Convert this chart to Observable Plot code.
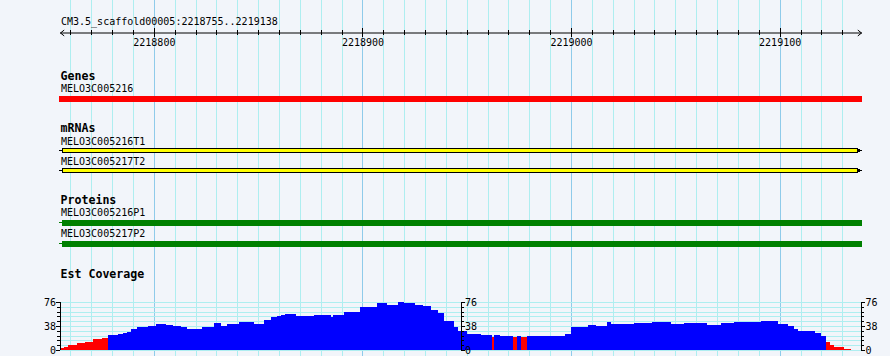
<!DOCTYPE html>
<html><head><meta charset="utf-8">
<script src="https://cdn.jsdelivr.net/npm/d3@7"></script>
<script src="https://cdn.jsdelivr.net/npm/@observablehq/plot@0.6"></script>
<style>
html,body{margin:0;padding:0;background:#f2f5fa;}
#chart{position:relative;width:890px;height:356px;background:#f2f5fa;overflow:hidden;}
</style></head><body><div id="chart"></div>
<script>
// ---- data ----
const refName = "CM3.5_scaffold00005";
const viewStart = 2218755;
const viewEnd = 2219138;
const minorStep = 10;
const majorStep = 100;

const trackTitles = ["Genes", "mRNAs", "Proteins", "Est Coverage"];

const geneIds = ["MELO3C005216"];
const geneStarts = [2218754];
const geneEnds = [2219140];

const mrnaIds = ["MELO3C005216T1", "MELO3C005217T2"];
const mrnaStarts = [2218754, 2218754];
const mrnaEnds = [2219140, 2219140];
const mrnaBoxStarts = [2218756, 2218756];
const mrnaBoxEnds = [2219137.5, 2219137.5];

const proteinIds = ["MELO3C005216P1", "MELO3C005217P2"];
const proteinStarts = [2218754, 2218754];
const proteinEnds = [2219140, 2219140];
const proteinBoxStarts = [2218756, 2218756];
const proteinBoxEnds = [2219139.5, 2219139.5];

// EST coverage: runs (start position, depth); last run ends at covEnd
const covStarts = [2218755,2218757,2218759,2218763,2218767,2218771,2218775,2218778,2218783,2218785,
  2218787,2218789,2218792,2218797,2218801,2218806,2218809,2218813,2218816,2218818,
  2218823,2218829,2218832,2218835,2218841,2218848,2218853,2218856,2218859,2218861,
  2218863,2218868,2218877,2218885,2218886,2218891,2218899,2218907,2218912,2218917,
  2218920,2218925,2218929,2218933,2218936,2218939,2218944,2218946,2218950,2218957,
  2218962,2218963,2218966,2218972,2218974,2218976,2218979,2218997,2219000,2219008,
  2219012,2219017,2219019,2219030,2219037,2219039,2219048,2219054,2219065,2219072,
  2219078,2219091,2219099,2219104,2219107,2219109,2219117,2219120,2219122,2219124,
  2219126,2219131];
const covValues = [3,5,8,10.5,13,17,19,23.7,25,27,
  29,33,37,38,41,39,38,36,34,33,
  37,42,38.5,41.7,44,40.6,47.5,51.7,54,55,
  56.5,54,55.4,51.7,55,59.6,68.6,74,72,76,
  75,72,69.7,64,58,46,37,30.6,26,23.7,
  21,23.7,22,21,22,21,22,24.8,36,39.6,
  38,44,41,42,43,44,40.6,42,40,43,
  45,46,41.7,38,34,30,27,22,12.7,7.4,
  5.3,2];
const covEnd = 2219134;
const covMax = 76;
const covLabelTicks = [0, 38, 76];
const covTickDivisions = 10;
const lowThreshold = 21.5;

// ---- colours ----
const minorGridColor = "#aeeef0";
const majorGridColor = "#8fcbea";
const geneColor = "#ff0000";
const mrnaColor = "#ffff00";
const proteinColor = "#008000";
const covHigh = "#0000ff";
const covLow = "#ff0000";

// ---- derived tables ----
const genes = geneIds.map((id, i) => ({id, start: geneStarts[i], end: geneEnds[i]}));
const mrnas = mrnaIds.map((id, i) => ({id, start: mrnaStarts[i], end: mrnaEnds[i], boxStart: mrnaBoxStarts[i], boxEnd: mrnaBoxEnds[i]}));
const proteins = proteinIds.map((id, i) => ({id, start: proteinStarts[i], end: proteinEnds[i], boxStart: proteinBoxStarts[i], boxEnd: proteinBoxEnds[i]}));
const cov = covStarts.map((s, i) => ({start: s, end: i + 1 < covStarts.length ? covStarts[i + 1] : covEnd, value: covValues[i]}));

const allTicks = d3.range(Math.ceil(viewStart / minorStep) * minorStep, viewEnd + 1, minorStep);
const majorTicks = allTicks.filter(d => d % majorStep === 0);
const minorTicks = allTicks.filter(d => d % majorStep !== 0);
const mid = (viewStart + viewEnd + 1) / 2;
const rulerArrows = [{from: mid, to: viewStart}, {from: mid, to: viewEnd + 1}];

const covTickValues = d3.range(covTickDivisions + 1).map(i => i * covMax / covTickDivisions);
const yAxes = [{pos: viewStart, side: "left"}, {pos: mid, side: "right"}, {pos: viewEnd + 1, side: "right"}];
const yTickData = yAxes.flatMap(a => covTickValues.map(v => ({pos: a.pos, side: a.side, v, major: covLabelTicks.some(t => Math.abs(t - v) < 1e-6)})));
const yLabelData = yAxes.flatMap(a => covLabelTicks.map(v => ({pos: a.pos, side: a.side, v})));

// ---- layout helpers ----
const xScale = {domain: [viewStart, viewEnd + 1], range: [60, 861], axis: null};
const base = (top, height) => ({
  width: 890, height, x: xScale,
  style: {position: "absolute", left: "0px", top: top + "px", background: "transparent",
    fontFamily: "'DejaVu Sans Mono', monospace", fontSize: "10px", color: "#000", overflow: "visible"}
});
const titleFont = {fontWeight: "bold", fontSize: 11.6, textAnchor: "start", lineAnchor: "middle"};
const chart = document.getElementById("chart");

// vertical grid (behind everything)
chart.append(Plot.plot({...base(0, 356), margin: 0, marks: [
  Plot.ruleX(minorTicks, {x: d => d, stroke: minorGridColor, shapeRendering: "crispEdges"}),
  Plot.ruleX(majorTicks, {x: d => d, stroke: majorGridColor, shapeRendering: "crispEdges"})
]}));

// ruler
chart.append(Plot.plot({...base(0, 50), marginTop: 30, marginBottom: 15, marginLeft: 0, marginRight: 0,
  y: {domain: [0, 1], axis: null},
  marks: [
    Plot.text([`${refName}:${viewStart}..${viewEnd}`], {x: viewStart, y: 1, dy: -9, dx: 0.5, textAnchor: "start", lineAnchor: "middle", fill: "#000"}),
    Plot.arrow(rulerArrows, {x1: "from", x2: "to", y1: 0.5, y2: 0.5, stroke: "#000", strokeWidth: 1, headAngle: 77, headLength: 6.5}),
    Plot.ruleX(minorTicks, {x: d => d, stroke: "#000", shapeRendering: "crispEdges"}),
    Plot.ruleX(majorTicks, {x: d => d, stroke: "#000", insetTop: -2, insetBottom: -2, shapeRendering: "crispEdges"}),
    Plot.text(majorTicks, {x: d => d, y: 0, dy: 7.5, text: d => String(d), lineAnchor: "middle", fill: "#000"})
  ]}));

// Genes
chart.append(Plot.plot({...base(50, 56), marginTop: 0, marginBottom: 0, marginLeft: 59, marginRight: 28,
  y: {type: "point", padding: 0, domain: geneIds, range: [48, 48], axis: null},
  marks: [
    Plot.text([trackTitles[0]], {frameAnchor: "top-left", dx: 1, dy: 26, ...titleFont}),
    Plot.ruleY(genes, {y: "id", x1: "start", x2: "end", stroke: geneColor, strokeWidth: 6, clip: true, shapeRendering: "crispEdges"}),
    Plot.text(genes, {x: d => Math.max(d.start, viewStart), y: "id", text: "id", dy: -10, dx: 0.5, textAnchor: "start", lineAnchor: "middle", fill: "#000"})
  ]}));

// mRNAs
chart.append(Plot.plot({...base(106, 70), marginTop: 0, marginBottom: 0, marginLeft: 59, marginRight: 28,
  y: {type: "point", padding: 0, domain: mrnaIds, range: [43.5, 63.5], axis: null},
  marks: [
    Plot.text([trackTitles[1]], {frameAnchor: "top-left", dx: 1, dy: 22, ...titleFont}),
    Plot.ruleY(mrnas, {y: "id", x1: "start", x2: "end", stroke: "#000", strokeWidth: 1, clip: true, shapeRendering: "crispEdges"}),
    Plot.ruleY(mrnas, {y: "id", x1: "boxEnd", x2: "boxEnd", insetRight: -2, stroke: "#000", strokeWidth: 3, shapeRendering: "crispEdges"}),
    Plot.ruleY(mrnas, {y: "id", x1: "boxStart", x2: "boxEnd", stroke: "#000", strokeWidth: 5, shapeRendering: "crispEdges"}),
    Plot.ruleY(mrnas, {y: "id", x1: "boxStart", x2: "boxEnd", insetLeft: 1, insetRight: 1, stroke: mrnaColor, strokeWidth: 3, shapeRendering: "crispEdges"}),
    Plot.text(mrnas, {x: d => Math.max(d.start, viewStart), y: "id", text: "id", dy: -9, dx: 0.5, textAnchor: "start", lineAnchor: "middle", fill: "#000"})
  ]}));

// Proteins
chart.append(Plot.plot({...base(176, 74), marginTop: 0, marginBottom: 0, marginLeft: 59, marginRight: 28,
  y: {type: "point", padding: 0, domain: proteinIds, range: [46, 67], axis: null},
  marks: [
    Plot.text([trackTitles[2]], {frameAnchor: "top-left", dx: 1, dy: 24, ...titleFont}),
    Plot.ruleY(proteins, {y: "id", x1: "start", x2: "end", stroke: proteinColor, strokeWidth: 1, clip: true, shapeRendering: "crispEdges"}),
    Plot.ruleY(proteins, {y: "id", x1: "boxStart", x2: "boxEnd", stroke: proteinColor, strokeWidth: 6, shapeRendering: "crispEdges"}),
    Plot.text(proteins, {x: d => Math.max(d.start, viewStart), y: "id", text: "id", dy: -9.5, dx: 0.5, textAnchor: "start", lineAnchor: "middle", fill: "#000"})
  ]}));

// EST coverage
chart.append(Plot.plot({...base(250, 106), marginTop: 52, marginBottom: 6, marginLeft: 59, marginRight: 28,
  y: {domain: [0, covMax], axis: null},
  color: {type: "identity"},
  marks: [
    Plot.text([trackTitles[3]], {frameAnchor: "top-left", dx: 1, dy: -28, ...titleFont}),
    Plot.ruleY(covTickValues, {y: d => d, x1: viewStart, x2: viewEnd + 1, stroke: minorGridColor, shapeRendering: "crispEdges"}),
    Plot.rect(cov, {x1: "start", x2: "end", y1: 0, y2: "value", fill: d => d.value < lowThreshold ? covLow : covHigh, shapeRendering: "crispEdges"}),
    Plot.ruleX(yAxes, {x: "pos", y1: 0, y2: covMax, stroke: "#000", shapeRendering: "crispEdges"}),
    Plot.ruleY(yTickData, {filter: d => d.side === "left" && !d.major, y: "v", x1: "pos", x2: "pos", insetLeft: -3, stroke: "#000", shapeRendering: "crispEdges"}),
    Plot.ruleY(yTickData, {filter: d => d.side === "left" && d.major, y: "v", x1: "pos", x2: "pos", insetLeft: -4, stroke: "#000", shapeRendering: "crispEdges"}),
    Plot.ruleY(yTickData, {filter: d => d.side === "right" && !d.major, y: "v", x1: "pos", x2: "pos", insetRight: -3, stroke: "#000", shapeRendering: "crispEdges"}),
    Plot.ruleY(yTickData, {filter: d => d.side === "right" && d.major, y: "v", x1: "pos", x2: "pos", insetRight: -4, stroke: "#000", shapeRendering: "crispEdges"}),
    Plot.text(yLabelData, {filter: d => d.side === "left", x: "pos", y: "v", text: d => String(d.v), textAnchor: "end", dx: -4.5, lineAnchor: "middle", fill: "#000"}),
    Plot.text(yLabelData, {filter: d => d.side === "right", x: "pos", y: "v", text: d => String(d.v), textAnchor: "start", dx: 4, lineAnchor: "middle", fill: "#000"})
  ]}));
</script></body></html>
